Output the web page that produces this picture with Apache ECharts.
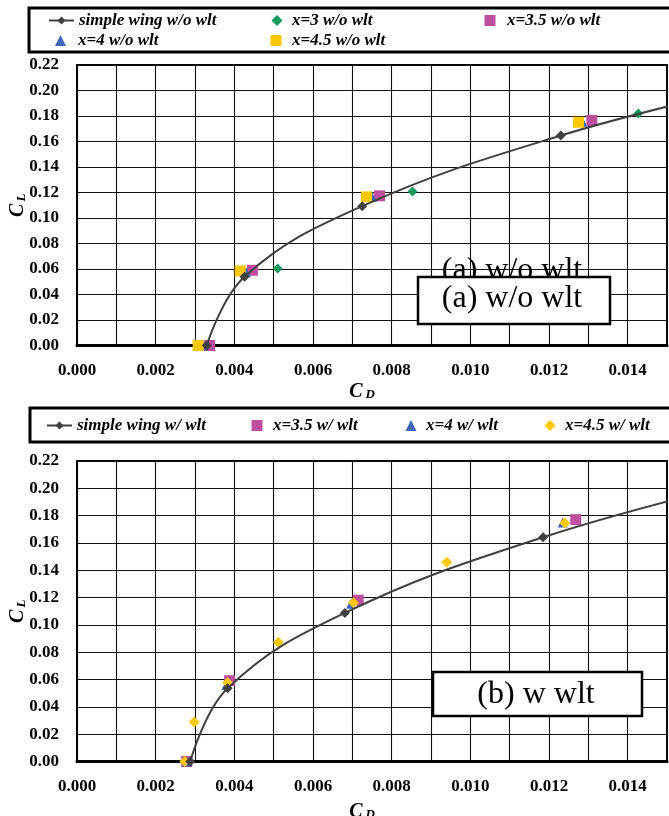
<!DOCTYPE html>
<html><head><meta charset="utf-8">
<script src="https://cdn.jsdelivr.net/npm/echarts@6/dist/echarts.min.js"></script>
<style>html,body{margin:0;padding:0;background:#fff}#c{width:669px;height:816px}</style>
</head><body><div id="c"></div><script>
// ---------- data (a) without winglet ----------
const simpleA_CD = [0.0033, 0.00426, 0.00725, 0.0123, 0.0172];
const simpleA_CL = [0.0, 0.0540, 0.1093, 0.1647, 0.2035];
const x3A_CD = [0.0051, 0.00853, 0.01427];
const x3A_CL = [0.0604, 0.1208, 0.1820];
const x35A_CD = [0.00337, 0.00446, 0.00769, 0.01309];
const x35A_CL = [0.0, 0.0590, 0.1174, 0.1765];
const x4A_CD = [0.0032, 0.0043, 0.0075, 0.01285];
const x4A_CL = [0.0, 0.0575, 0.1166, 0.1754];
const x45A_CD = [0.00308, 0.00415, 0.00736, 0.01275];
const x45A_CL = [0.0, 0.0585, 0.1166, 0.1751];
// ---------- data (b) with winglet ----------
const simpleB_CD = [0.00288, 0.00383, 0.00681, 0.01185, 0.0172];
const simpleB_CL = [0.0, 0.0536, 0.1088, 0.1642, 0.2065];
const x35B_CD = [0.00279, 0.00388, 0.00715, 0.01268];
const x35B_CL = [0.0, 0.0592, 0.1181, 0.1771];
const x4B_CD = [0.0028, 0.0038, 0.00697, 0.01235];
const x4B_CL = [0.0, 0.0560, 0.1154, 0.1749];
const x45B_CD = [0.00274, 0.00298, 0.00383, 0.00512, 0.00703, 0.0094, 0.0124];
const x45B_CL = [0.0, 0.0290, 0.0577, 0.0873, 0.1163, 0.1459, 0.1747];
// ---------- names / axes ----------
const namesA = ['simple wing w/o wlt', 'x=3 w/o wlt', 'x=3.5 w/o wlt', 'x=4 w/o wlt', 'x=4.5 w/o wlt'];
const namesB = ['simple wing w/ wlt', 'x=3.5 w/ wlt', 'x=4 w/ wlt', 'x=4.5 w/ wlt'];
const xRange = [0, 0.015, 0.001];
const yRange = [0, 0.22, 0.02];
const panelLabels = ['(a) w/o wlt', '(b) w wlt'];

const FONT = '"Liberation Serif","Times New Roman",serif';
const C = {dark:'#404040', green:'#169a5f', mag:'#bd4f9e', blue:'#3f66b8', yel:'#ffc800'};
const zip = (a,b) => a.map((v,i)=>[v,b[i]]);

function xAxis(gi, gap){
  return {type:'value', gridIndex:gi, min:xRange[0], max:xRange[1], interval:xRange[2],
    axisLine:{show:true, onZero:false, lineStyle:{color:'#000', width:3}},
    axisTick:{show:false},
    splitLine:{show:true, lineStyle:{color:'#111', width:1.1}},
    axisLabel:{color:'#000', fontFamily:FONT, fontWeight:'bold', fontSize:17, margin:17,
      formatter:v=>{const k=Math.round(v*1000);return k%2===0?v.toFixed(3):'';}},
    name:'{c|C}{s|D}', nameLocation:'middle', nameGap:gap, nameMoveOverlap:false,
    nameTextStyle:{padding:[0,20,0,0], rich:{
      c:{fontFamily:FONT, fontStyle:'italic', fontWeight:'bold', fontSize:20, lineHeight:22, verticalAlign:'bottom', color:'#000'},
      s:{fontFamily:FONT, fontStyle:'italic', fontWeight:'bold', fontSize:13, lineHeight:13, verticalAlign:'bottom', color:'#000', padding:[0,0,0,3]}}}
  };
}
function yAxis(gi){
  return {type:'value', gridIndex:gi, min:yRange[0], max:yRange[1], interval:yRange[2],
    axisLine:{show:true, onZero:false, lineStyle:{color:'#000', width:2}},
    axisTick:{show:false},
    splitLine:{show:true, lineStyle:{color:'#111', width:1.1}},
    axisLabel:{color:'#000', fontFamily:FONT, fontWeight:'bold', fontSize:17, margin:18,
      formatter:v=>v.toFixed(2)},
    name:'{c|C}{s|L}', nameLocation:'middle', nameGap:49, nameRotate:90, nameMoveOverlap:false,
    nameTextStyle:{rich:{
      c:{fontFamily:FONT, fontStyle:'italic', fontWeight:'bold', fontSize:20, lineHeight:22, verticalAlign:'bottom', color:'#000'},
      s:{fontFamily:FONT, fontStyle:'italic', fontWeight:'bold', fontSize:13, lineHeight:13, verticalAlign:'bottom', color:'#000', padding:[0,0,0,2]}}}
  };
}
const lineS = (name, gi, d) => ({name, type:'line', xAxisIndex:gi, yAxisIndex:gi, data:d, smooth:0.4,
  symbol:'diamond', symbolSize:10, showAllSymbol:true, clip:true,
  lineStyle:{color:C.dark, width:2}, itemStyle:{color:C.dark}});
const scat = (name, gi, d, sym, size, col) => ({name, type:'scatter', xAxisIndex:gi, yAxisIndex:gi, data:d,
  symbol:sym, symbolSize:size, itemStyle:{color:col, opacity:1}});

const legTS = (pad) => ({fontFamily:FONT, fontStyle:'italic', fontWeight:'bold', fontSize:17, color:'#000', padding:[0,0,0,pad]});
const legLine = (name, left, top) => ({data:[name], left, top, itemWidth:25, itemHeight:10, padding:0,
  selectedMode:false, textStyle:legTS(0)});
const legSym = (name, cx, top, pad) => ({data:[name], left:cx-5.5, top, itemWidth:11, itemHeight:11, padding:0,
  selectedMode:false, textStyle:legTS(pad)});

const option = {
  animation:false,
  backgroundColor:'#fff',
  grid:[
    {left:77, top:65, width:590, height:280.5, show:true, borderColor:'#000', borderWidth:2, backgroundColor:'transparent', containLabel:false, outerBoundsMode:'none'},
    {left:77, top:461, width:590, height:300.5, show:true, borderColor:'#000', borderWidth:2, backgroundColor:'transparent', containLabel:false, outerBoundsMode:'none'}
  ],
  xAxis:[xAxis(0,34), xAxis(1,38)],
  yAxis:[yAxis(0), yAxis(1)],
  legend:[
    legLine(namesA[0], 48, 12),
    legSym(namesA[1], 277, 12, 4.5),
    legSym(namesA[2], 490, 12, 6.5),
    legSym(namesA[3], 60.5, 32, 7),
    legSym(namesA[4], 276, 32, 5.5),
    legLine(namesB[0], 46, 417),
    legSym(namesB[1], 257, 417, 5.5),
    legSym(namesB[2], 411, 417, 4.5),
    legSym(namesB[3], 550, 417, 4.5)
  ],
  graphic:[
    {type:'rect', z:0, shape:{x:29, y:8, width:660, height:44}, style:{fill:'#fff', stroke:'#000', lineWidth:3}},
    {type:'rect', z:0, shape:{x:30, y:408, width:660, height:34}, style:{fill:'#fff', stroke:'#000', lineWidth:3}},
    {type:'text', z:50, x:512, y:271, style:{text:panelLabels[0], font:'32px '+FONT, fill:'#000', align:'center', verticalAlign:'middle'}},
    {type:'rect', z:51, shape:{x:418, y:277, width:192, height:47}, style:{fill:'#fff', stroke:'#000', lineWidth:2.5}},
    {type:'text', z:52, x:512, y:299, style:{text:panelLabels[0], font:'32px '+FONT, fill:'#000', align:'center', verticalAlign:'middle'}},
    {type:'rect', z:51, shape:{x:433, y:672, width:209, height:44}, style:{fill:'#fff', stroke:'#000', lineWidth:2.5}},
    {type:'text', z:52, x:536, y:695, style:{text:panelLabels[1], font:'32px '+FONT, fill:'#000', align:'center', verticalAlign:'middle'}}
  ],
  series:[
    lineS(namesA[0], 0, zip(simpleA_CD, simpleA_CL)),
    scat(namesA[1], 0, zip(x3A_CD, x3A_CL), 'diamond', 10, C.green),
    scat(namesA[2], 0, zip(x35A_CD, x35A_CL), 'rect', 11, C.mag),
    scat(namesA[3], 0, zip(x4A_CD, x4A_CL), 'triangle', 10, C.blue),
    scat(namesA[4], 0, zip(x45A_CD, x45A_CL), 'rect', 11, C.yel),
    lineS(namesB[0], 1, zip(simpleB_CD, simpleB_CL)),
    scat(namesB[1], 1, zip(x35B_CD, x35B_CL), 'rect', 11, C.mag),
    scat(namesB[2], 1, zip(x4B_CD, x4B_CL), 'triangle', 10, C.blue),
    scat(namesB[3], 1, zip(x45B_CD, x45B_CL), 'diamond', 11, C.yel)
  ]
};
const chart = echarts.init(document.getElementById('c'), null, {renderer:'canvas'});
chart.setOption(option);
</script></body></html>
